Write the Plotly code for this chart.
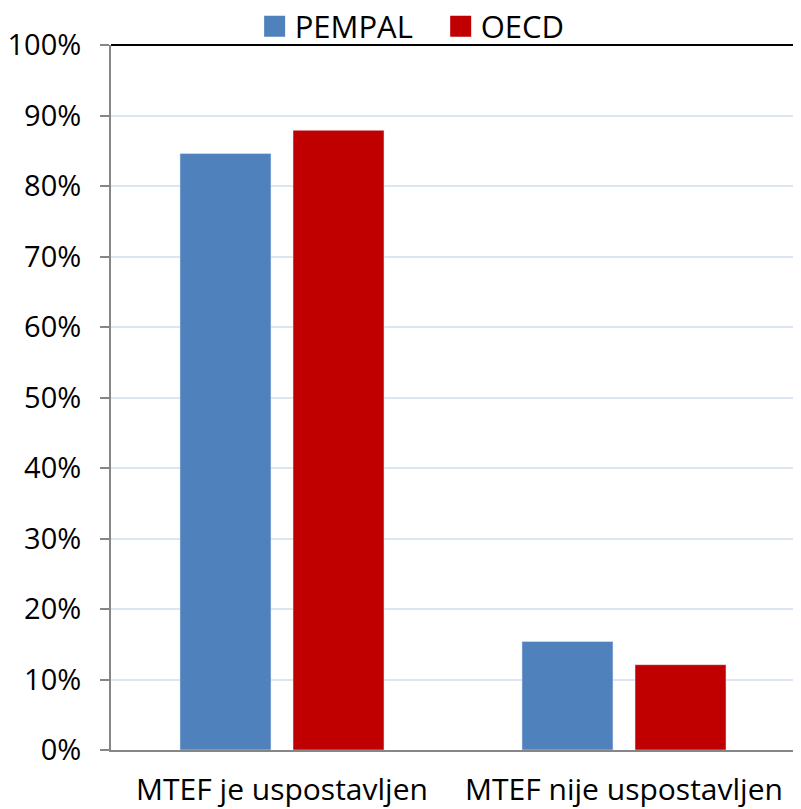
import plotly.graph_objects as go

categories = ["MTEF je uspostavljen", "MTEF nije uspostavljen"]
series_names = ["PEMPAL", "OECD"]
pempal = [84.6, 15.4]
oecd = [87.9, 12.1]
y_ticks = list(range(0, 101, 10))
y_tick_labels = [f"{v}%" for v in y_ticks]

colors = {"PEMPAL": "#4f81bd", "OECD": "#c00000"}
legend_ids = {"PEMPAL": "legend", "OECD": "legend2"}
font = "'Open Sans', sans-serif"

fig = go.Figure()
for name, vals in zip(series_names, [pempal, oecd]):
    fig.add_trace(go.Bar(x=categories, y=vals, name=name,
                         marker_color=colors[name], showlegend=False))
# legend-only entries with large square swatches, one legend box each
for name in series_names:
    fig.add_trace(go.Scatter(
        x=[None], y=[None], mode="markers", name=name,
        legend=legend_ids[name],
        marker=dict(symbol="square", size=16, color=colors[name],
                    line=dict(color=colors[name], width=5)),
    ))

legend_style = dict(
    orientation="h",
    xanchor="left",
    y=1.026,
    yanchor="middle",
    font=dict(size=31),
    itemwidth=30,
    bgcolor="rgba(0,0,0,0)",
)

# page body has an 8px margin, so the figure is sized to fit inside it
fig.update_layout(
    width=793,
    height=801,
    margin=dict(l=103, r=6, t=37, b=59, autoexpand=False),
    paper_bgcolor="white",
    plot_bgcolor="white",
    barmode="group",
    bargap=0.339,
    bargroupgap=0.195,
    font=dict(family=font, size=28, color="black"),
    legend=dict(x=0.21, **legend_style),
    legend2=dict(x=0.482, **legend_style),
)
fig.update_yaxes(
    range=[0, 100],
    tickvals=y_ticks,
    ticktext=y_tick_labels,
    tickfont=dict(size=29),
    ticklabelstandoff=13,
    showgrid=True,
    gridcolor="#dce6f2",
    gridwidth=1.5,
    showline=True,
    linecolor="#868686",
    linewidth=2,
    ticks="outside",
    ticklen=9,
    tickcolor="#868686",
    tickwidth=2,
    zeroline=False,
    automargin=False,
)
fig.update_xaxes(
    showline=True,
    linecolor="#868686",
    linewidth=2,
    ticks="",
    tickfont=dict(size=30),
    ticklabelstandoff=12,
    automargin=False,
)
# black frame on top and right of plot area
fig.add_shape(type="line", xref="paper", yref="paper", x0=0, x1=1, y0=1, y1=1,
              line=dict(color="black", width=2))
fig.add_shape(type="line", xref="paper", yref="paper", x0=1, x1=1, y0=0, y1=1,
              line=dict(color="black", width=2))

fig.write_html("out.html")
